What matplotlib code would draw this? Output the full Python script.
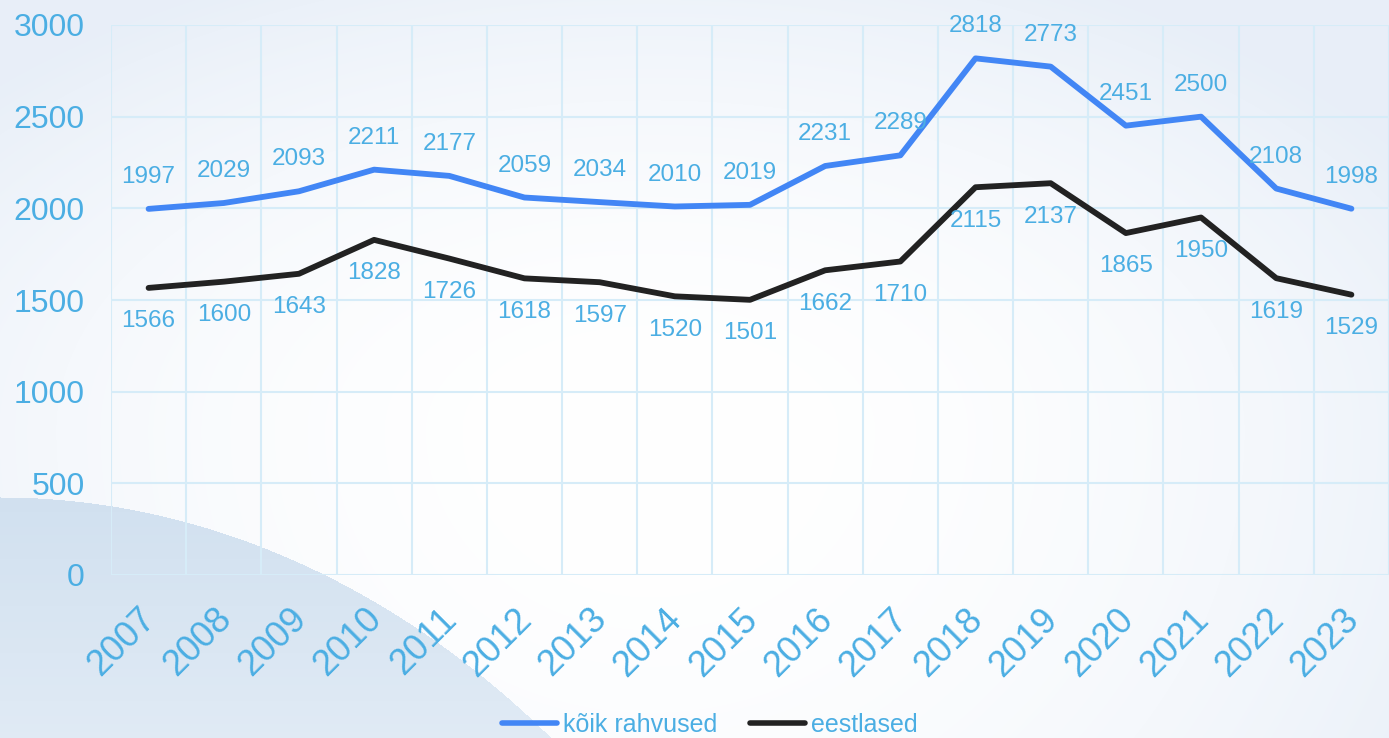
import numpy as np
import matplotlib
matplotlib.use("Agg")
import matplotlib.pyplot as plt
from matplotlib.transforms import ScaledTranslation

plt.rcParams['font.family'] = ['Liberation Sans', 'DejaVu Sans']

# andmed
years = ['2007', '2008', '2009', '2010', '2011', '2012', '2013', '2014', '2015',
         '2016', '2017', '2018', '2019', '2020', '2021', '2022', '2023']
koik = [1997, 2029, 2093, 2211, 2177, 2059, 2034, 2010, 2019,
        2231, 2289, 2818, 2773, 2451, 2500, 2108, 1998]
eestlased = [1566, 1600, 1643, 1828, 1726, 1618, 1597, 1520, 1501,
             1662, 1710, 2115, 2137, 1865, 1950, 1619, 1529]
yticks = [0, 500, 1000, 1500, 2000, 2500, 3000]

TXT = '#4BAEE3'
BLUE = '#4286F5'
BLACK = '#222222'
GRID = '#D6ECF8'

W, H = 1389, 738
fig = plt.figure(figsize=(W / 100, H / 100), dpi=100)

# taust: hele gradient + kaar vasakul all
yy, xx = np.mgrid[0:H, 0:W].astype(float)
dy = np.where(yy < 430, (yy - 430) / 500, (yy - 430) / 800)
w = np.clip(((xx - 650) / 900) ** 2 + dy ** 2, 0, 1) * 0.9
edge = np.array([0.90, 0.93, 0.97])
bg = np.ones((H, W, 3)) * (1 - w[..., None]) + edge * w[..., None]
inside = (xx / 917) ** 2 + ((yy - 1697) / 1200) ** 2 <= 1
t = np.clip((yy - 497) / 241, 0, 1)[..., None]
arc = np.array([0.82, 0.88, 0.94]) * (1 - t) + np.array([0.88, 0.92, 0.96]) * t
bg = np.where(inside[..., None], arc, bg)

bgax = fig.add_axes([0, 0, 1, 1], zorder=0)
bgax.imshow(bg, aspect='auto', extent=[0, W, H, 0])
bgax.axis('off')

ax = fig.add_axes([111 / W, (H - 575) / H, (W - 111) / W, 550 / H], zorder=1)
ax.patch.set_alpha(0)
x = np.arange(len(years))

ax.plot(x, koik, color=BLUE, lw=4.2, label='kõik rahvused', solid_capstyle='round', clip_on=False, zorder=3)
ax.plot(x, eestlased, color=BLACK, lw=4.2, label='eestlased', solid_capstyle='round', clip_on=False, zorder=3)

for i in range(len(years)):
    ax.annotate(str(koik[i]), (x[i], koik[i]), xytext=(0, 23), textcoords='offset points',
                ha='center', va='center', color=TXT, fontsize=17.5, zorder=4)
    ax.annotate(str(eestlased[i]), (x[i], eestlased[i]), xytext=(0, -24), textcoords='offset points',
                ha='center', va='center', color=TXT, fontsize=17.5, zorder=4)

ax.set_xlim(-0.5, len(years) - 0.5)
ax.set_ylim(0, 3000)
ax.set_yticks(yticks)
ax.set_yticklabels([str(v) for v in yticks], fontsize=23, color=TXT)
ax.set_xticks(x)
ax.set_xticklabels(years, fontsize=26, color=TXT, rotation=45, ha='right', va='center',
                   rotation_mode='anchor')
ax.set_xticks(np.arange(len(years) + 1) - 0.5, minor=True)
ax.tick_params(axis='both', which='both', length=0)
ax.tick_params(axis='y', pad=19)
ax.tick_params(axis='x', pad=28)
for lab in ax.get_xticklabels():
    lab.set_transform(lab.get_transform() + ScaledTranslation(0.02, 0, fig.dpi_scale_trans))

ax.grid(True, axis='y', which='major', color=GRID, lw=1.5, zorder=1)
ax.grid(True, axis='x', which='minor', color=GRID, lw=1.5, zorder=1)
ax.grid(False, axis='x', which='major')
for s in ax.spines.values():
    s.set_visible(False)

leg = fig.legend(loc='center', bbox_to_anchor=(710 / W, 1 - 725 / H), ncol=2, frameon=False,
                 fontsize=18, handlelength=2.2, handletextpad=0.25, columnspacing=1.3)
for txt in leg.get_texts():
    txt.set_color(TXT)
for ln in leg.get_lines():
    ln.set_linewidth(4)

fig.savefig('out.png', dpi=100)
